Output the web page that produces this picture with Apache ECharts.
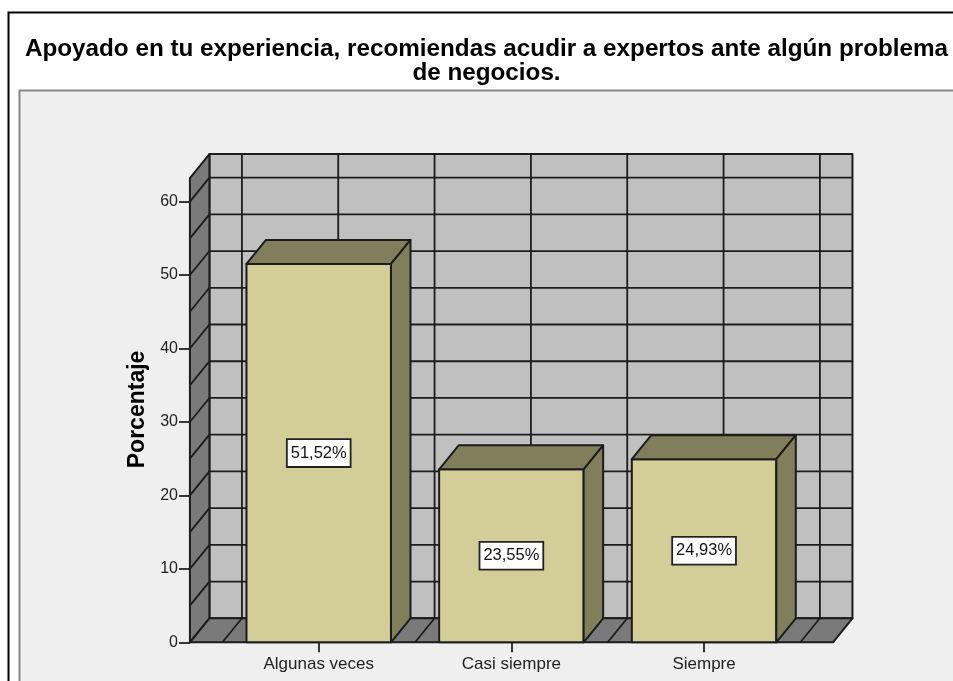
<!DOCTYPE html>
<html><head><meta charset="utf-8">
<style>html,body{margin:0;padding:0;background:#fff}#c{width:953px;height:681px}</style>
<script src="https://cdn.jsdelivr.net/npm/echarts@6/dist/echarts.min.js"></script>
</head><body><div id="c"></div>
<script>
const categories = ['Algunas veces', 'Casi siempre', 'Siempre'];
const values = [51.52, 23.55, 24.93];
const yTicks = [0, 5, 10, 15, 20, 25, 30, 35, 40, 45, 50, 55, 60];
const yTop = 63.2;
const titleLines = ['Apoyado en tu experiencia, recomiendas acudir a expertos ante algún problema', 'de negocios.'];
const yName = 'Porcentaje';

const DX = 19.5, DY = -24, LINE = '#1c1c1c';
const FRONT = '#D3CE97', SHADE = '#817F5B', WALL = '#C0C0C0', SIDE = '#7A7A7A';
const PAD_L = 0.1686, PAD_R = 0.169, BAR = 0.75;

function poly(points, fill) {
  return { type: 'polygon', shape: { points }, style: { fill, stroke: LINE, lineWidth: 2, lineJoin: 'round' } };
}
function seg(x1, y1, x2, y2) {
  return { type: 'line', shape: { x1, y1, x2, y2 }, style: { stroke: LINE, lineWidth: 1.8 } };
}

function renderRoom(params, api) {
  const band = api.size([1, 0])[0];
  const x0 = api.coord([0, 0])[0] - band / 2;
  const yb = api.coord([0, 0])[1], yt = api.coord([0, yTop])[1];
  const xl = x0 - band * PAD_L, xr = x0 + band * categories.length + band * PAD_R;
  const ch = [
    poly([[xl + DX, yt + DY], [xr + DX, yt + DY], [xr + DX, yb + DY], [xl + DX, yb + DY]], WALL),
    poly([[xl, yt], [xl + DX, yt + DY], [xl + DX, yb + DY], [xl, yb]], SIDE),
    poly([[xl, yb], [xl + DX, yb + DY], [xr + DX, yb + DY], [xr, yb]], SIDE)
  ];
  yTicks.forEach(v => {
    const y = api.coord([0, v])[1];
    if (v > 0) ch.push(seg(xl + DX, y + DY, xr + DX, y + DY));
    if (v > 0) ch.push(seg(xl, y, xl + DX, y + DY));
  });
  for (let i = 0; i <= categories.length * 2; i++) {
    const x = x0 + i * band / 2;
    ch.push(seg(x + DX, yt + DY, x + DX, yb + DY));
    ch.push(seg(x, yb, x + DX, yb + DY));
  }
  return { type: 'group', children: ch };
}

function renderBar(params, api) {
  const i = api.value(0), v = api.value(1);
  const c = api.coord([i, v]), b = api.coord([i, 0]), mid = api.coord([i, v / 2]);
  const w = api.size([1, 0])[0] * BAR;
  const l = c[0] - w / 2, r = c[0] + w / 2;
  const txt = v.toFixed(2).replace('.', ',') + '%';
  return { type: 'group', children: [
    poly([[l, c[1]], [r, c[1]], [r, b[1]], [l, b[1]]], FRONT),
    poly([[l, c[1]], [l + DX, c[1] + DY], [r + DX, c[1] + DY], [r, c[1]]], SHADE),
    poly([[r, c[1]], [r + DX, c[1] + DY], [r + DX, b[1] + DY], [r, b[1]]], SHADE),
    { type: 'text', x: c[0], y: mid[1], z2: 10, style: {
      text: txt, align: 'center', verticalAlign: 'middle', fill: '#111',
      font: '16.5px "Liberation Sans"', backgroundColor: '#fff', borderColor: '#222', borderWidth: 1.8,
      padding: [5, 3, 4, 3]
    } }
  ] };
}

const chart = echarts.init(document.getElementById('c'), null, { renderer: 'canvas' });
chart.setOption({
  animation: false,
  backgroundColor: '#fff',
  title: {
    text: titleLines.join('\n'), left: 481.5, top: 32, textAlign: 'center',
    textStyle: { fontFamily: 'Liberation Sans', fontSize: 24.25, fontWeight: 'bold', color: '#000', lineHeight: 24 }
  },
  graphic: [
    { type: 'rect', z: -20, shape: { x: 8.5, y: 12.5, width: 1000, height: 800 },
      style: { fill: '#fff', stroke: '#000', lineWidth: 2 } },
    { type: 'rect', z: -19, shape: { x: 19.5, y: 90.5, width: 1000, height: 800 },
      style: { fill: '#EFEFEF', stroke: '#888', lineWidth: 2 } }
  ],
  grid: { left: 222.4, width: 578, top: 201.6, height: 440.7 },
  xAxis: {
    type: 'category', data: categories,
    axisLine: { show: false },
    axisTick: { show: true, alignWithLabel: true, length: 10, lineStyle: { color: '#222', width: 1.8 } },
    axisLabel: { margin: 12, color: '#222', fontFamily: 'Liberation Sans', fontSize: 17, lineHeight: 20 }
  },
  yAxis: {
    type: 'value', min: 0, max: 60, interval: 10, offset: 32.4,
    name: yName, nameLocation: 'middle', nameGap: 41, nameRotate: 90,
    nameTextStyle: { fontFamily: 'Liberation Sans', fontSize: 23, fontWeight: 'bold', color: '#000', padding: [0, 0, 0, 25] },
    splitLine: { show: false },
    axisLine: { show: false },
    axisTick: { show: true, length: 11, lineStyle: { color: '#222', width: 1.8 } },
    axisLabel: { margin: 12, color: '#222', fontFamily: 'Liberation Sans', fontSize: 16, padding: [3, 0, 0, 0] }
  },
  series: [
    { type: 'custom', z: 1, silent: true, renderItem: renderRoom, data: [[0, 0]], encode: { x: 0, y: 1 } },
    { type: 'custom', z: 2, renderItem: renderBar, data: values.map((v, i) => [i, v]), encode: { x: 0, y: 1 } }
  ]
});
</script></body></html>
